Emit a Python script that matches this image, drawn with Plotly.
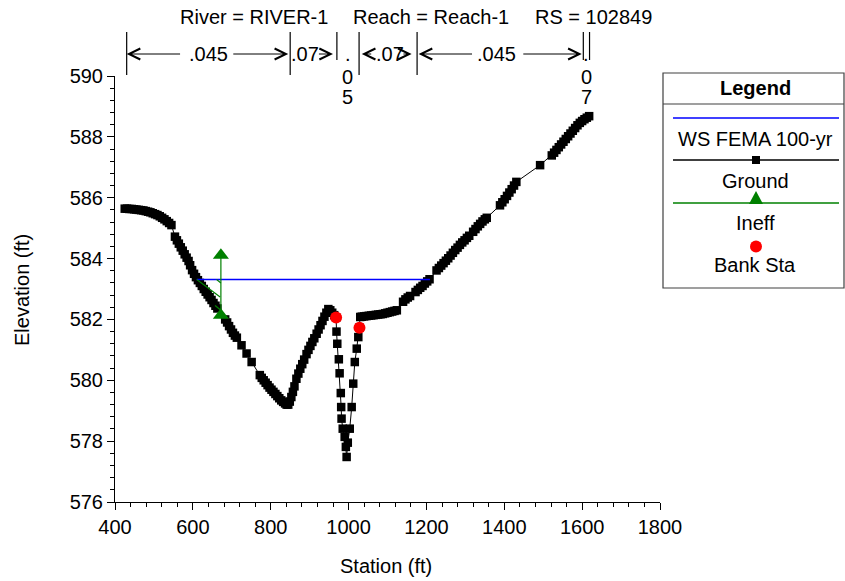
import plotly.graph_objects as go

# ---------------- data ----------------
ground_sta = [425, 431, 437, 443, 449, 455, 461, 467, 473, 479, 485, 491, 497, 503, 509, 515, 521, 527, 533, 539, 545,
              554, 559, 564, 569, 574, 579, 584, 589, 593, 598, 603, 608, 613, 618, 623, 628, 633, 638, 643, 648, 653, 658, 663,
              683, 688, 693, 698, 703, 708, 713, 725, 738, 751,
              772, 777, 782, 787, 792, 797, 802, 807, 812, 817, 822, 827, 832, 837, 841, 845, 849, 853, 857, 861, 866,
              871, 876, 881, 886, 892, 897, 902, 907, 912, 918, 923, 928, 933, 938, 943, 948, 953, 958, 963, 968,
              969, 971, 975, 977, 980, 981, 982, 985, 990, 993, 995, 998, 1003, 1008, 1012, 1016, 1021, 1025, 1028, 1030,
              1034, 1040, 1046, 1052, 1058, 1064, 1070, 1076, 1082, 1088, 1094, 1100, 1106, 1112, 1118, 1124,
              1140, 1146, 1152, 1158, 1172, 1178, 1184, 1190, 1196, 1202, 1208,
              1226, 1232, 1238, 1244, 1250, 1256, 1262, 1268, 1274, 1280, 1286, 1292, 1298, 1304, 1310,
              1320, 1326, 1332, 1338, 1344, 1350, 1355,
              1389, 1395, 1401, 1407, 1413, 1419, 1425, 1431, 1492,
              1522, 1528, 1534, 1540, 1546, 1552, 1558, 1564, 1570, 1576, 1582, 1588, 1594, 1600, 1606, 1612, 1618]
ground_elev = [585.64, 585.64, 585.63, 585.63, 585.62, 585.61, 585.60, 585.59, 585.58, 585.56, 585.54, 585.52, 585.49, 585.46, 585.43, 585.39, 585.34, 585.29, 585.23, 585.17, 585.10,
               584.72, 584.60, 584.49, 584.37, 584.26, 584.14, 584.03, 583.92, 583.78, 583.62, 583.50, 583.39, 583.29, 583.20, 583.10, 583.00, 582.91, 582.82, 582.73, 582.64, 582.54, 582.45, 582.36,
               582.00, 581.90, 581.78, 581.67, 581.56, 581.47, 581.40, 581.15, 580.88, 580.60,
               580.17, 580.08, 580.00, 579.92, 579.84, 579.76, 579.69, 579.62, 579.55, 579.48, 579.41, 579.34, 579.29, 579.24, 579.20, 579.20, 579.30, 579.45, 579.62, 579.80, 580.05,
               580.22, 580.38, 580.53, 580.68, 580.86, 581.00, 581.13, 581.26, 581.38, 581.53, 581.67, 581.81, 581.95, 582.09, 582.22, 582.34, 582.30, 582.22, 582.14, 582.06,
               581.60, 581.20, 580.69, 580.23, 579.58, 579.12, 578.74, 578.41, 578.14, 577.81, 577.48, 577.95, 578.41, 579.12, 579.89, 580.60, 581.04, 581.42, 581.73, 582.08,
               582.09, 582.10, 582.11, 582.12, 582.13, 582.14, 582.15, 582.16, 582.17, 582.18, 582.20, 582.22, 582.24, 582.26, 582.28, 582.30,
               582.58, 582.66, 582.72, 582.77, 582.90, 582.97, 583.04, 583.10, 583.18, 583.25, 583.32,
               583.61, 583.69, 583.77, 583.85, 583.93, 584.01, 584.10, 584.19, 584.28, 584.36, 584.45, 584.53, 584.60, 584.68, 584.75,
               584.88, 584.97, 585.06, 585.14, 585.22, 585.29, 585.34,
               585.75, 585.85, 585.95, 586.06, 586.17, 586.28, 586.40, 586.52, 587.07,
               587.39, 587.48, 587.57, 587.66, 587.75, 587.84, 587.93, 588.02, 588.11, 588.20, 588.29, 588.38, 588.46, 588.52, 588.58, 588.63, 588.68]

ws_sta = [610, 1209]
ws_elev = [583.31, 583.31]

ineff_sta = [672, 672]
ineff_elev = [582.14, 584.11]
hatch_sta = [610, 670, None, 661, 672, None, 657, 672]
hatch_elev = [583.31, 582.74, None, 583.31, 583.20, None, 582.46, 582.30]

bank_sta = [968, 1028]
bank_elev = [582.06, 581.73]

n_break_sta = [430, 850, 970, 1027, 1176, 1603, 1619]
n_values = [".045", ".07", ".05", ".07", ".045", ".07"]

title_parts = ["River = RIVER-1", "Reach = Reach-1", "RS = 102849"]
legend_labels = ["WS FEMA 100-yr", "Ground", "Ineff", "Bank Sta"]

# ---------------- layout helpers ----------------
W, H = 845, 581
L, R, T, B = 115, 185, 76, 79
FONT = "Liberation Sans, Arial, sans-serif"
FS = 20


def pxx(x):
    return (x - L) / (W - L - R)


def pyy(y):
    return (H - B - y) / (H - T - B)


fig = go.Figure()

fig.add_trace(go.Scatter(x=ground_sta, y=ground_elev, mode="lines+markers",
                         line=dict(color="black", width=1),
                         marker=dict(symbol="square", size=8.5, color="black", line=dict(width=0)),
                         name="Ground", showlegend=False, cliponaxis=False))
fig.add_trace(go.Scatter(x=ws_sta, y=ws_elev, mode="lines",
                         line=dict(color="#0000ff", width=1.4), name="WS FEMA 100-yr", showlegend=False))
fig.add_trace(go.Scatter(x=hatch_sta, y=hatch_elev, mode="lines", connectgaps=False,
                         line=dict(color="#008000", width=1.2), showlegend=False, hoverinfo="skip"))
fig.add_trace(go.Scatter(x=ineff_sta, y=ineff_elev, mode="lines+markers",
                         line=dict(color="#008000", width=1.2),
                         marker=dict(symbol="triangle-up", size=14, color="#008000"),
                         name="Ineff", showlegend=False))
fig.add_trace(go.Scatter(x=bank_sta, y=bank_elev, mode="markers",
                         marker=dict(symbol="circle", size=12, color="#ff0000"),
                         name="Bank Sta", showlegend=False))

annotations = []
shapes = []

# title
for txt, xl in zip(title_parts, [178, 351, 533]):
    annotations.append(dict(text=txt, xref="paper", yref="paper", x=pxx(xl), y=pyy(17),
                            xanchor="left", yanchor="middle", showarrow=False,
                            font=dict(size=FS, family=FONT, color="black")))

# Manning's n breaks
long_lines = {430, 850, 1027, 1176}
for s in n_break_sta:
    ybot = 75 if s in long_lines else 60
    shapes.append(dict(type="line", xref="x", yref="paper", x0=s, x1=s, y0=pyy(32), y1=pyy(ybot),
                       line=dict(color="black", width=1.2)))

n_text_x = [640, 888, None, 1107, 1380, None]
arrows = [(430, 571), (845, 700), (854, 860), (960, 920), (1034, 1062), (1162, 1137), (1180, 1321), (1599, 1445)]
for i, v in enumerate(n_values):
    if n_text_x[i] is not None:
        annotations.append(dict(text=v, xref="x", yref="paper", x=n_text_x[i], y=pyy(54),
                                showarrow=False, xanchor="center", yanchor="middle",
                                font=dict(size=FS, family=FONT, color="black")))
    else:
        cx = (n_break_sta[i] + n_break_sta[i + 1]) / 2
        for ch, yy in zip(["."] + list(v[1:]), [54, 77, 97]):
            annotations.append(dict(text=ch, xref="x", yref="paper", x=cx, y=pyy(yy),
                                    showarrow=False, xanchor="center", yanchor="middle",
                                    font=dict(size=FS, family=FONT, color="black")))
for head, tail in arrows:
    annotations.append(dict(text="", xref="x", yref="paper", x=head, y=pyy(54),
                            axref="x", ax=tail, ayref="pixel", ay=0, showarrow=True,
                            arrowhead=5, arrowsize=2.2, arrowwidth=1, arrowcolor="black", standoff=0))

# axis titles
annotations.append(dict(text="Station (ft)", xref="paper", yref="paper", x=pxx(386), y=pyy(566),
                        showarrow=False, xanchor="center", yanchor="middle",
                        font=dict(size=FS, family=FONT, color="black")))
annotations.append(dict(text="Elevation (ft)", xref="paper", yref="paper", x=pxx(22), y=pyy(290),
                        showarrow=False, xanchor="center", yanchor="middle", textangle=-90,
                        font=dict(size=FS, family=FONT, color="black")))

# custom legend box
lx0, lx1, ly0, ly1 = 663, 844, 73, 288
cx = 756
shapes.append(dict(type="rect", xref="paper", yref="paper", x0=pxx(lx0), x1=pxx(lx1), y0=pyy(ly0), y1=pyy(ly1),
                   line=dict(color="#404040", width=1.2), fillcolor="white", layer="below"))
shapes.append(dict(type="line", xref="paper", yref="paper", x0=pxx(lx0), x1=pxx(lx1), y0=pyy(104), y1=pyy(104),
                   line=dict(color="#404040", width=1.2)))
annotations.append(dict(text="<b>Legend</b>", xref="paper", yref="paper", x=pxx(cx - 1), y=pyy(88),
                        showarrow=False, xanchor="center", yanchor="middle",
                        font=dict(size=FS, family=FONT, color="black")))
line_y = [118, 160, 203]
line_col = ["#0000ff", "black", "#008000"]
for yy, c in zip(line_y, line_col):
    shapes.append(dict(type="line", xref="paper", yref="paper", x0=pxx(673), x1=pxx(839), y0=pyy(yy), y1=pyy(yy),
                       line=dict(color=c, width=1.3)))
# square
shapes.append(dict(type="rect", xref="paper", yref="paper", x0=pxx(cx - 4), x1=pxx(cx + 4), y0=pyy(156), y1=pyy(164),
                   fillcolor="black", line=dict(color="black", width=0)))
# triangle
tri = "M {:.5f},{:.5f} L {:.5f},{:.5f} L {:.5f},{:.5f} Z".format(
    pxx(cx - 7), pyy(204), pxx(cx + 7), pyy(204), pxx(cx), pyy(191))
shapes.append(dict(type="path", xref="paper", yref="paper", path=tri, fillcolor="#008000",
                   line=dict(color="#008000", width=0)))
# circle
shapes.append(dict(type="circle", xref="paper", yref="paper", x0=pxx(cx - 6), x1=pxx(cx + 6), y0=pyy(240.5), y1=pyy(252.5),
                   fillcolor="#ff0000", line=dict(color="#ff0000", width=0)))
for txt, yy in zip(legend_labels, [139, 181, 223, 265]):
    annotations.append(dict(text=txt, xref="paper", yref="paper", x=pxx(cx - 1), y=pyy(yy),
                            showarrow=False, xanchor="center", yanchor="middle",
                            font=dict(size=FS, family=FONT, color="black")))

axis_common = dict(showline=True, linecolor="black", linewidth=1, ticks="outside", ticklen=7,
                   tickwidth=1, tickcolor="black", showgrid=False, zeroline=False, mirror=False,
                   tickfont=dict(size=FS, family=FONT, color="black"))

fig.update_layout(
    width=W, height=H,
    margin=dict(l=L, r=R, t=T, b=B, pad=0),
    paper_bgcolor="white", plot_bgcolor="white",
    showlegend=False,
    font=dict(family=FONT, size=FS, color="black"),
    xaxis=dict(range=[400, 1800], tickmode="linear", tick0=400, dtick=200,
               minor=dict(ticks="outside", ticklen=4, tickmode="linear", tick0=400, dtick=40,
                          tickcolor="black", tickwidth=1, showgrid=False),
               **axis_common),
    yaxis=dict(range=[576, 590], tickmode="linear", tick0=576, dtick=2,
               minor=dict(ticks="outside", ticklen=4, tickmode="linear", tick0=576, dtick=0.4,
                          tickcolor="black", tickwidth=1, showgrid=False),
               **axis_common),
    annotations=annotations,
    shapes=shapes,
)

fig.write_html("out.html")
